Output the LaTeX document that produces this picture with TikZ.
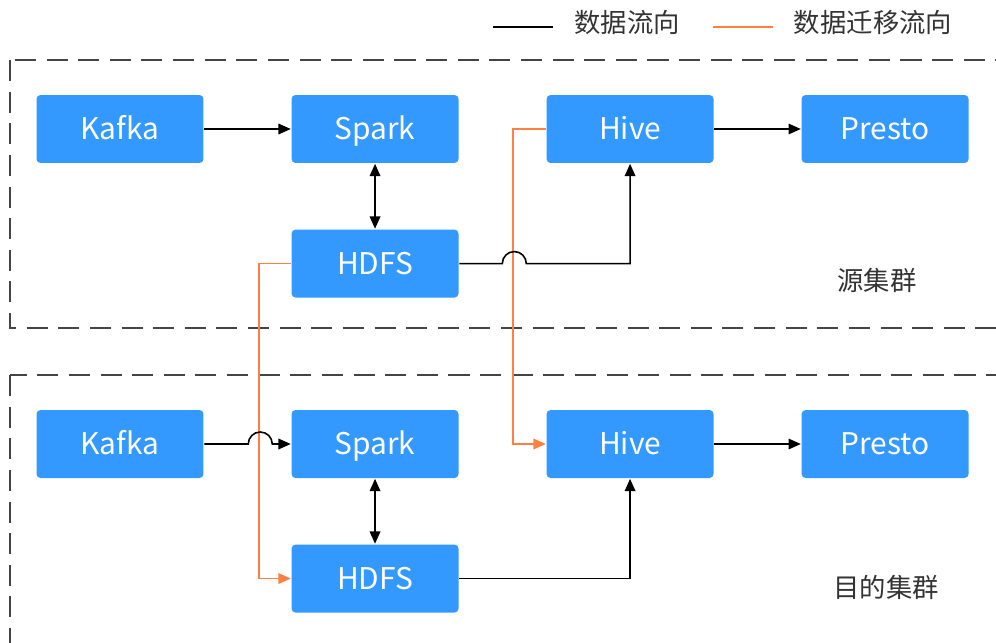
\documentclass[tikz,border=0pt]{standalone}
\usepackage{fontspec}
\setmainfont{Noto Sans CJK SC}
\usetikzlibrary{arrows.meta,positioning}
\definecolor{boxblue}{RGB}{51,153,255}
\definecolor{migorange}{RGB}{255,128,64}
\definecolor{frame}{RGB}{68,68,68}

\begin{document}
\begin{tikzpicture}[x=0.02cm,y=-0.02cm,->,>={Triangle[length=7pt,width=6pt]},line width=0.9pt,node distance=1.3cm and 1.73cm,
  node/.style={fill=boxblue,text=white,rounded corners=0.08cm,minimum width=3.34cm,minimum height=1.36cm,inner sep=0pt,
    text height=12.4pt,text depth=0pt,font=\fontsize{17}{17}\selectfont},
  lbl/.style={font=\fontsize{15}{15}\selectfont,text=black!80},
  group/.style={draw=frame,line width=1.1pt,dash pattern=on 12pt off 6pt,-},
  move/.style={draw=migorange,->,>={Triangle[length=7pt,width=6pt,fill=migorange]}}]
  \useasboundingbox (0,0) rectangle (996,642);

  % dashed cluster frames
  \draw[group] (10,60) rectangle (1020,328);
  \draw[group] (10,375) rectangle (1020,670);

  % legend
  \node[lbl] (l1) at (627,23) {数据流向};
  \node[lbl] (l2) at (873,23) {数据迁移流向};
  \draw[-] (493,27) -- (553,27);
  \draw[-,migorange] (713,27) -- (773,27);

  % source cluster
  \node[node] (1) at (120,129) {Kafka};
  \node[node] (2) [right=of 1] {Spark};
  \node[node] (3) [right=of 2] {Hive};
  \node[node] (4) [right=of 3] {Presto};
  \node[node] (5) [below=of 2] {HDFS};
  \node[lbl] (s) at (877,280) {源集群};

  % target cluster
  \node[node] (6) at (120,444) {Kafka};
  \node[node] (7) [right=of 6] {Spark};
  \node[node] (8) [right=of 7] {Hive};
  \node[node] (9) [right=of 8] {Presto};
  \node[node] (10) [below=of 7] {HDFS};
  \node[lbl] (t) at (886,587) {目的集群};

  % migration
  \draw[move] (3.west) -- ++(-33,0) |- (8.west);
  \draw[move] (5.west) -- ++(-32,0) |- (10.west);

  % data flow
  \draw (1) -- (2);
  \draw[<->] (2) -- (5);
  \draw (3) -- (4);
  \draw (5.east) -- ++(43,0) arc[start angle=180,end angle=0,radius=0.24cm] -| (3.south);
  \draw (6.east) -- ++(44,0) arc[start angle=180,end angle=0,radius=0.24cm] -- (7.west);
  \draw[<->] (7) -- (10);
  \draw (8) -- (9);
  \draw (10.east) -| (8.south);
\end{tikzpicture}
\end{document}
